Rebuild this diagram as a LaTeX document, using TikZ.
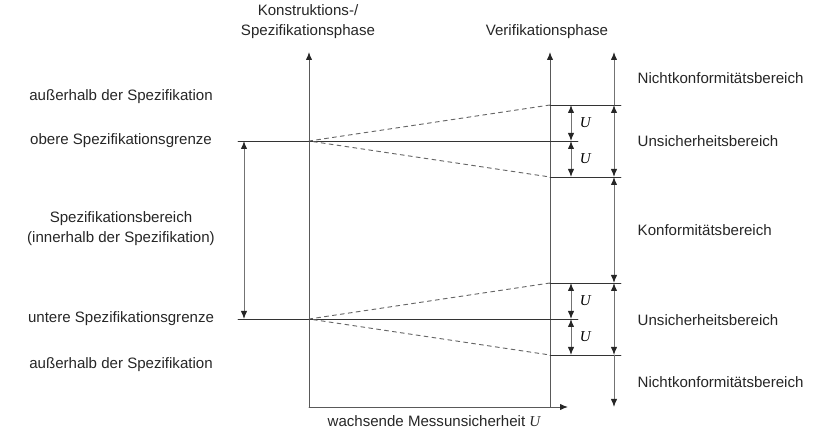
\documentclass[tikz,border=0pt]{standalone}
\usepackage{fontspec}
\setmainfont{Liberation Sans}
\newfontfamily\ufont{Liberation Serif}
\usetikzlibrary{arrows.meta}
\tikzset{
  tip/.tip={Latex[length=6pt,width=4.8pt,color=black!85]},
  axis/.style={black!65, line width=0.7pt, -tip},
  limit/.style={black!80, line width=0.7pt},
  dim/.style={black!55, line width=0.7pt, tip-tip},
  lbl/.style={font=\fontsize{11.3}{15}\selectfont, text=black!85, align=center},
  rlbl/.style={font=\fontsize{11.3}{15}\selectfont, text=black!85, anchor=west}
}
\newcommand\U{{\ufont\itshape U}}
\begin{document}
\begin{tikzpicture}[x=0.75pt, y=-0.75pt, line cap=round, line join=round]
  \useasboundingbox (0,0) rectangle (833,431);
  % axes
  \coordinate (k0) at (309,407); \coordinate (k1) at (309,52);
  \coordinate (v0) at (550,407); \coordinate (v1) at (550,52);
  \coordinate (xe) at (568,407);
  \draw[axis] (k0) -- (k1);
  \draw[axis] (v0) -- (v1);
  \draw[axis] (k0) -- (xe);
  \node[lbl] (kon) at (308,22) {Konstruktions-/\\Spezifikationsphase};
  \node[lbl] (ver) at (547,32) {Verifikationsphase};
  \node[lbl] (mu) at (434,421) {wachsende Messunsicherheit \U};
  % spec limits, dashed spread and U
  \foreach \n/\y/\t in {o/141/obere,u/319/untere}{
    \coordinate (\n s) at (238,\y); \coordinate (\n e) at (578,\y);
    \coordinate (\n k) at (309,\y);
    \coordinate (\n a) at (550,\y-36); \coordinate (\n b) at (550,\y+36);
    \coordinate (\n ua) at (571,\y-36); \coordinate (\n um) at (571,\y);
    \coordinate (\n ub) at (571,\y+36);
    \draw[limit] (\n s) -- (\n e);
    \draw[limit, black!60, dashed] (\n a) -- (\n k) -- (\n b);
    \draw[limit] (\n a) -- ++(71,0);
    \draw[limit] (\n b) -- ++(71,0);
    \draw[dim] (\n ua) -- node[right=3pt, lbl, text=black] {\U} (\n um);
    \draw[dim] (\n um) -- node[right=3pt, lbl, text=black] {\U} (\n ub);
    \node[lbl] (\n grenze) at (121,\y) {\t{} Spezifikationsgrenze};
  }
  \draw[dim] (os -| 244,0) -- (us -| 244,0);
  % right dimension chain
  \coordinate (r0) at (614,52); \coordinate (r5) at (614,407);
  \draw[dim, tip-] (r0) -- (oa -| r0);
  \draw[dim] (oa -| r0) -- (ob -| r0);
  \draw[dim] (ob -| r0) -- (ua -| r0);
  \draw[dim] (ua -| r0) -- (ub -| r0);
  \draw[dim, -tip] (ub -| r0) -- (r5);
  \node[rlbl] (nk1) at (633,78) {Nichtkonformitätsbereich};
  \node[rlbl] (us1) at (633,141) {Unsicherheitsbereich};
  \node[rlbl] (kb) at (633,230) {Konformitätsbereich};
  \node[rlbl] (us2) at (633,320) {Unsicherheitsbereich};
  \node[rlbl] (nk2) at (633,382) {Nichtkonformitätsbereich};
  % left labels
  \node[lbl] (aus1) at (121,97) {außerhalb der Spezifikation};
  \node[lbl] (sb) at (121,229) {Spezifikationsbereich\\(innerhalb der Spezifikation)};
  \node[lbl] (aus2) at (121,365) {außerhalb der Spezifikation};
\end{tikzpicture}
\end{document}
